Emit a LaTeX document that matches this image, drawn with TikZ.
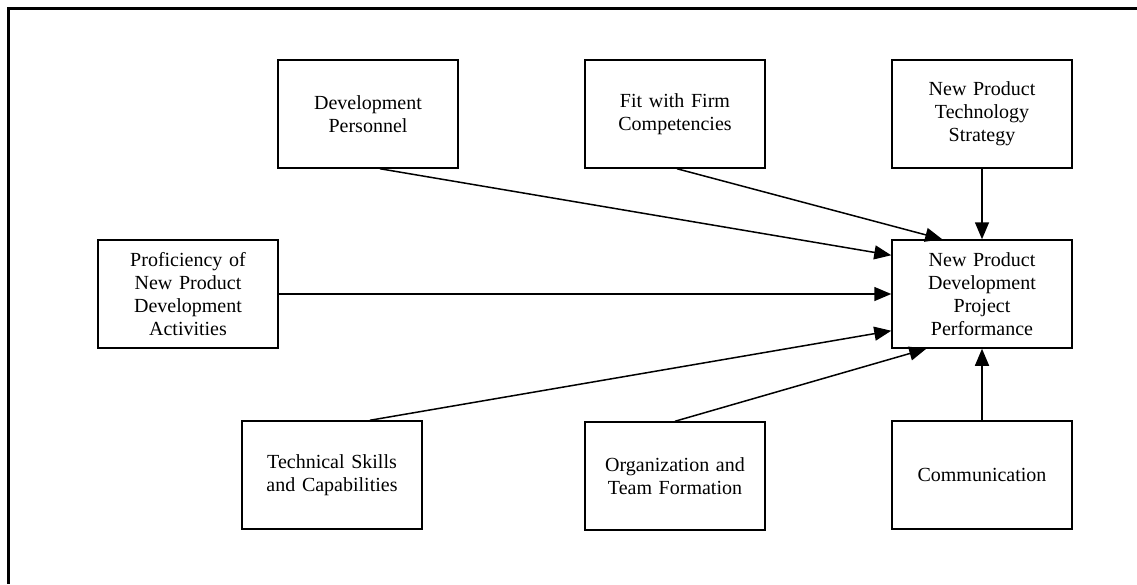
\documentclass[tikz,border=0pt]{standalone}
\usepackage{fontspec}
\setmainfont{Liberation Serif}
\usetikzlibrary{arrows.meta}
\begin{document}
\begin{tikzpicture}[x=1pt,y=-1pt,
  factor/.style={draw, line width=1.5pt, minimum width=180pt, minimum height=108pt,
    inner sep=0pt, align=center, text width=176pt,
    font=\fontsize{20pt}{23pt}\selectfont},
  link/.style={line width=1.5pt, -{Triangle[length=17pt,width=14pt]}}]
  \useasboundingbox (0,0) rectangle (1137,584);
  % outer frame (top and left edges fall inside the page)
  \draw[line width=3pt] (1137,8) -- (8,8) -- (8,584);

  % top row
  \node[factor] (dp)   at (368,114) {Development\\Personnel};
  \node[factor] (fit)  at (675,114) {Fit with Firm\\Competencies};
  \node[factor] (npts) at (982,114) {New Product\\Technology\\Strategy};
  % middle row
  \node[factor] (prof) at (188,294) {Proficiency of\\New Product\\Development\\Activities};
  \node[factor] (perf) at (982,294) {New Product\\Development\\Project\\Performance};
  % bottom row
  \node[factor] (tech) at (332,475) {Technical Skills\\and Capabilities};
  \node[factor] (org)  at (675,476) {Organization and\\Team Formation};
  \node[factor] (comm) at (982,475) {Communication};

  % influences on project performance
  \draw[link] ([xshift=12pt]dp.south)   -- ([yshift=-16pt]perf.north west);
  \draw[link] ([xshift=2pt]fit.south)   -- ([xshift=51pt]perf.north west);
  \draw[link] (npts.south) -- (perf.north);
  \draw[link] (prof.east)  -- (perf.west);
  \draw[link] ([xshift=38pt]tech.north) -- ([yshift=18pt]perf.south west);
  \draw[link] (org.north)  -- ([xshift=35pt]perf.south west);
  \draw[link] (comm.north) -- (perf.south);
\end{tikzpicture}
\end{document}
